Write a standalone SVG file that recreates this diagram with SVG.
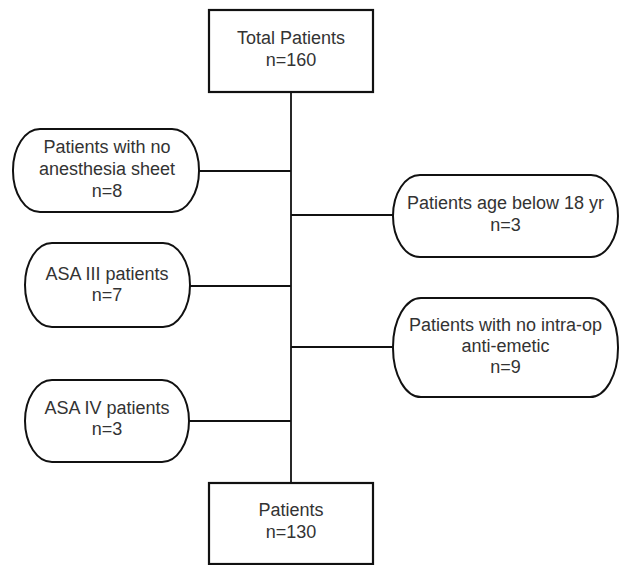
<svg xmlns="http://www.w3.org/2000/svg" width="621" height="565" viewBox="0 0 621 565">
<style>
.box{fill:#fff;stroke:#111;stroke-width:2.2}
.term{fill:#fff;stroke:#111;stroke-width:2}
.conn line{stroke:#111;stroke-width:1.8}
text{font-family:"Liberation Sans",Arial,sans-serif;font-size:18px;fill:#333;text-anchor:middle}
</style>
<rect width="621" height="565" fill="#fff"/>
<g class="conn" id="connectors">
<line x1="291" y1="92" x2="291" y2="483"/>
<line x1="199" y1="171" x2="291" y2="171"/>
<line x1="291" y1="215" x2="393" y2="215"/>
<line x1="190" y1="286" x2="291" y2="286"/>
<line x1="291" y1="347" x2="393" y2="347"/>
<line x1="189" y1="421" x2="291" y2="421"/>
</g>
<g id="total">
<rect class="box" x="209" y="10" width="164" height="82"/>
<text x="291" y="44">Total Patients</text>
<text x="291" y="66">n=160</text>
</g>
<g id="no-sheet">
<rect class="term" x="13" y="129" width="186" height="83" rx="27" ry="41"/>
<text x="107" y="153">Patients with no</text>
<text x="107" y="175">anesthesia sheet</text>
<text x="107" y="197">n=8</text>
</g>
<g id="age">
<rect class="term" x="393" y="175" width="225" height="82" rx="27" ry="41"/>
<text x="505.5" y="209">Patients age below 18 yr</text>
<text x="505.5" y="231">n=3</text>
</g>
<g id="asa3">
<rect class="term" x="25" y="243" width="165" height="84" rx="27" ry="42"/>
<text x="107" y="280">ASA III patients</text>
<text x="107" y="301">n=7</text>
</g>
<g id="no-antiemetic">
<rect class="term" x="393" y="298" width="225" height="99" rx="28" ry="49"/>
<text x="505.5" y="331">Patients with no intra-op</text>
<text x="505.5" y="352">anti-emetic</text>
<text x="505.5" y="373">n=9</text>
</g>
<g id="asa4">
<rect class="term" x="25" y="380" width="164" height="82" rx="27" ry="41"/>
<text x="107" y="414">ASA IV patients</text>
<text x="107" y="435">n=3</text>
</g>
<g id="final">
<rect class="box" x="209" y="483" width="164" height="81"/>
<text x="291" y="516">Patients</text>
<text x="291" y="538">n=130</text>
</g>
</svg>
